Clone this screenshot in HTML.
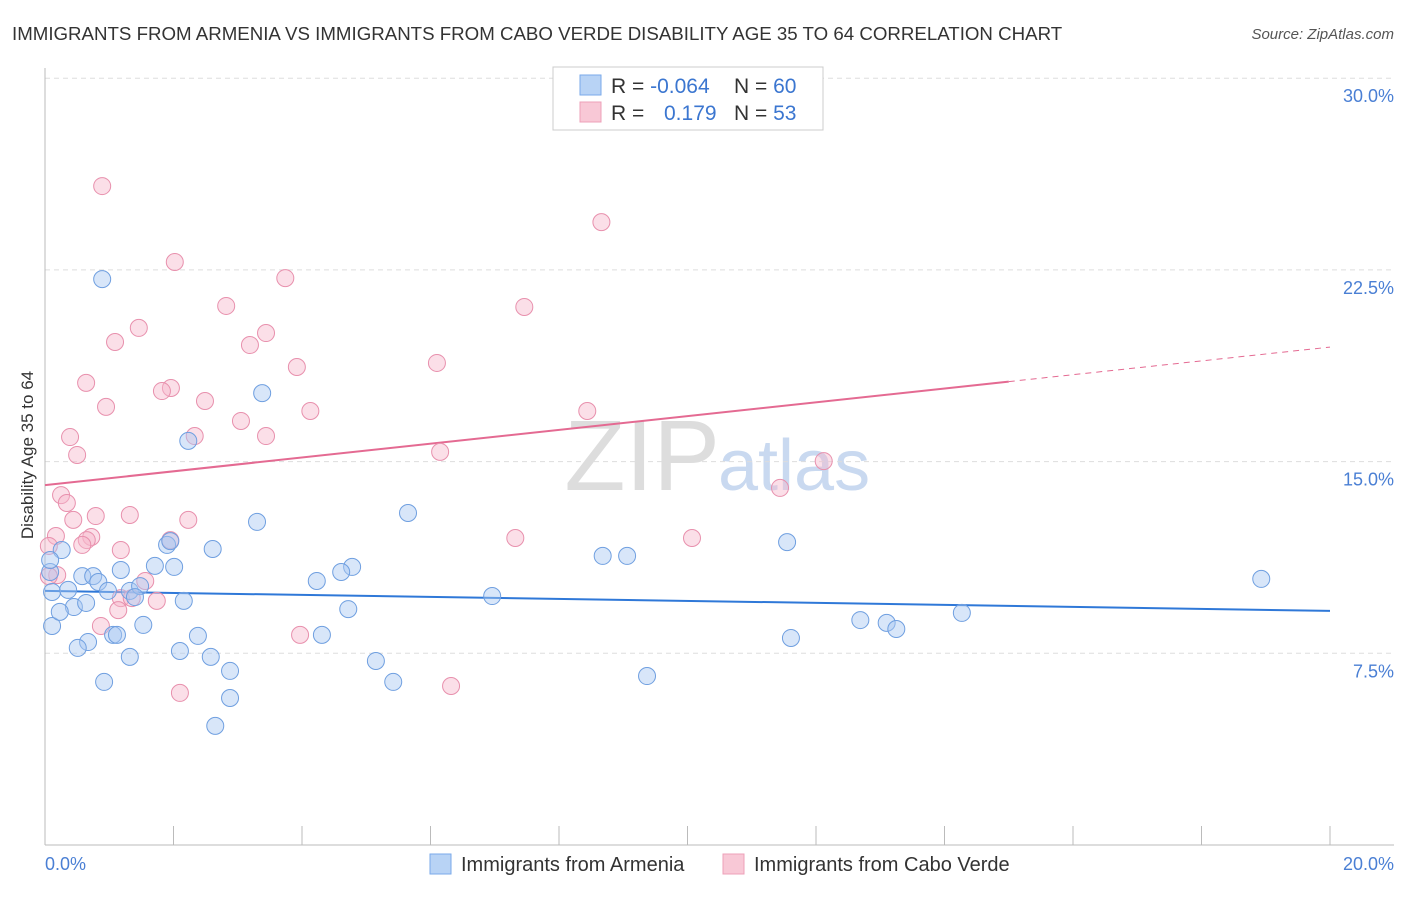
<!DOCTYPE html>
<html><head><meta charset="utf-8"><style>
body{margin:0;background:#fff;font-family:"Liberation Sans",sans-serif;}
svg text{font-family:"Liberation Sans",sans-serif;}
</style></head><body>
<svg id="chart" width="1406" height="892" xmlns="http://www.w3.org/2000/svg">
<text x="12" y="40" font-size="18.7" fill="#333">IMMIGRANTS FROM ARMENIA VS IMMIGRANTS FROM CABO VERDE DISABILITY AGE 35 TO 64 CORRELATION CHART</text>
<text x="1394" y="39" font-size="15" fill="#555" font-style="italic" text-anchor="end">Source: ZipAtlas.com</text>
<text x="720" y="490" font-size="100" fill="#ddd" text-anchor="end" font-family="Liberation Serif">ZIP</text>
<text x="718" y="490" font-size="72" fill="#c9d9f0">atlas</text>
<g id="grid"></g><g id="axes"></g><g id="lines"></g><g id="pts"></g>
<text transform="translate(33,455) rotate(-90)" font-size="17" fill="#333" text-anchor="middle">Disability Age 35 to 64</text>
<text x="45" y="870" font-size="18" fill="#4a7fd4">0.0%</text>
<text x="1394" y="870" font-size="18" fill="#4a7fd4" text-anchor="end">20.0%</text>
<g>
<rect x="553" y="67" width="270" height="63" fill="#fff" stroke="#ccc"/>
<rect x="580" y="75" width="21" height="20" fill="#b8d3f5" stroke="#7aaaea"/>
<rect x="580" y="102" width="21" height="20" fill="#f8c8d6" stroke="#eea0b8"/>
<text x="611" y="93" font-size="21" fill="#333">R = <tspan fill="#3b76d0">-0.064</tspan></text>
<text x="734" y="93" font-size="21" fill="#333">N = <tspan fill="#3b76d0">60</tspan></text>
<text x="611" y="120" font-size="21" fill="#333">R =</text>
<text x="664" y="120" font-size="21" fill="#3b76d0">0.179</text>
<text x="734" y="120" font-size="21" fill="#333">N = <tspan fill="#3b76d0">53</tspan></text>
</g>
<g>
<rect x="430" y="854" width="21" height="20" fill="#b8d3f5" stroke="#7aaaea"/>
<text x="461" y="871" font-size="20" fill="#333">Immigrants from Armenia</text>
<rect x="723" y="854" width="21" height="20" fill="#f8c8d6" stroke="#eea0b8"/>
<text x="754" y="871" font-size="20" fill="#333">Immigrants from Cabo Verde</text>
</g>
</svg>
<script>
const yTicks=[7.5,15,22.5,30];
const yTickLabels=["7.5%","15.0%","22.5%","30.0%"];
const blueX=[0.89,3.38,2.23,5.65,3.30,11.55,8.68,9.06,18.93,0.26,1.90,1.95,2.61,1.71,2.01,1.18,4.78,4.61,4.23,0.58,0.75,0.83,0.08,0.11,0.36,0.98,1.32,1.48,1.40,0.45,0.64,2.16,6.96,4.72,14.27,12.69,13.10,13.25,0.11,1.53,1.06,1.12,2.38,4.31,11.61,0.67,0.51,2.10,1.32,2.58,5.15,2.88,9.37,0.92,5.42,2.88,2.65,0.08,0.23];
const blueY=[22.14,17.68,15.81,12.99,12.64,11.85,11.31,11.31,10.41,11.54,11.74,11.89,11.58,10.92,10.88,10.76,10.88,10.68,10.33,10.52,10.52,10.29,10.68,9.90,9.98,9.94,9.94,10.13,9.70,9.31,9.47,9.55,9.74,9.23,9.08,8.80,8.69,8.45,8.57,8.61,8.22,8.22,8.18,8.22,8.10,7.94,7.71,7.59,7.36,7.36,7.20,6.81,6.61,6.38,6.38,5.75,4.66,11.15,9.12];
const pinkX=[0.89,8.66,2.02,3.74,2.82,7.46,1.46,3.44,1.09,3.19,6.10,3.92,0.64,1.96,1.82,2.49,0.95,4.13,8.44,3.05,0.39,2.33,3.44,0.50,6.15,12.12,11.44,0.25,0.34,0.79,1.32,0.44,2.23,0.17,0.72,0.65,0.58,7.32,10.07,0.06,1.18,0.19,1.56,1.18,1.74,1.14,0.87,3.97,6.32,2.10,1.35,0.06,1.95];
const pinkY=[25.78,24.37,22.81,22.18,21.09,21.05,20.23,20.03,19.68,19.56,18.86,18.70,18.08,17.88,17.76,17.37,17.14,16.98,16.98,16.59,15.96,16.00,16.00,15.26,15.38,15.02,13.97,13.69,13.38,12.87,12.91,12.72,12.72,12.09,12.05,11.93,11.74,12.01,12.01,11.70,11.54,10.56,10.33,9.66,9.55,9.19,8.57,8.22,6.22,5.95,9.66,10.52,11.93];
const blueTrend=[9.94,9.16];
const pinkTrend=[14.08,19.48];
const NS="http://www.w3.org/2000/svg";
const sx=v=>45+v*64.25, sy=v=>845-v*25.56;
function mk(t,a,p){const e=document.createElementNS(NS,t);for(const k in a)e.setAttribute(k,a[k]);document.getElementById(p).appendChild(e);return e;}
yTicks.forEach((t,i)=>{
 const g=mk('line',{x1:45,x2:1394,y1:sy(t),y2:sy(t),stroke:'#ddd','stroke-dasharray':'5,4'},'grid');
 
 
 const l=mk('text',{x:1394,y:sy(t)+24,'font-size':18,fill:'#4a7fd4','text-anchor':'end'},'grid');
 l.textContent=yTickLabels[i];
 
 
});
const ax=mk('line',{x1:45,x2:45,y1:68,y2:845,stroke:'#bbb'},'axes');


const bx=mk('line',{x1:45,x2:1394,y1:845,y2:845,stroke:'#bbb'},'axes');


for(let i=0;i<=10;i++){const t=mk('line',{x1:sx(i*2),x2:sx(i*2),y1:826,y2:845,stroke:'#bbb'},'axes');
 
 }
function dots(X,Y,fill,stroke,name){X.forEach((x,i)=>{const c=mk('circle',{cx:sx(x),cy:sy(Y[i]),r:8.5,fill:fill,stroke:stroke,'stroke-width':1,'fill-opacity':0.45},'pts');
 
 });}
dots(pinkX,pinkY,'#f6b8cb','#e890ad','cabo-verde-point');
dots(blueX,blueY,'#a9c8f2','#6f9fe0','armenia-point');
const bl=mk('line',{x1:sx(0),y1:sy(blueTrend[0]),x2:sx(20),y2:sy(blueTrend[1]),stroke:'#2f78d8','stroke-width':2},'lines');


const f=15,pm=pinkTrend[0]+(pinkTrend[1]-pinkTrend[0])*f/20;
const pl=mk('line',{x1:sx(0),y1:sy(pinkTrend[0]),x2:sx(f),y2:sy(pm),stroke:'#e46a92','stroke-width':2},'lines');


const pd=mk('line',{x1:sx(f),y1:sy(pm),x2:sx(20),y2:sy(pinkTrend[1]),stroke:'#e46a92','stroke-width':1,'stroke-dasharray':'6,5'},'lines');


</script>
</body></html>
